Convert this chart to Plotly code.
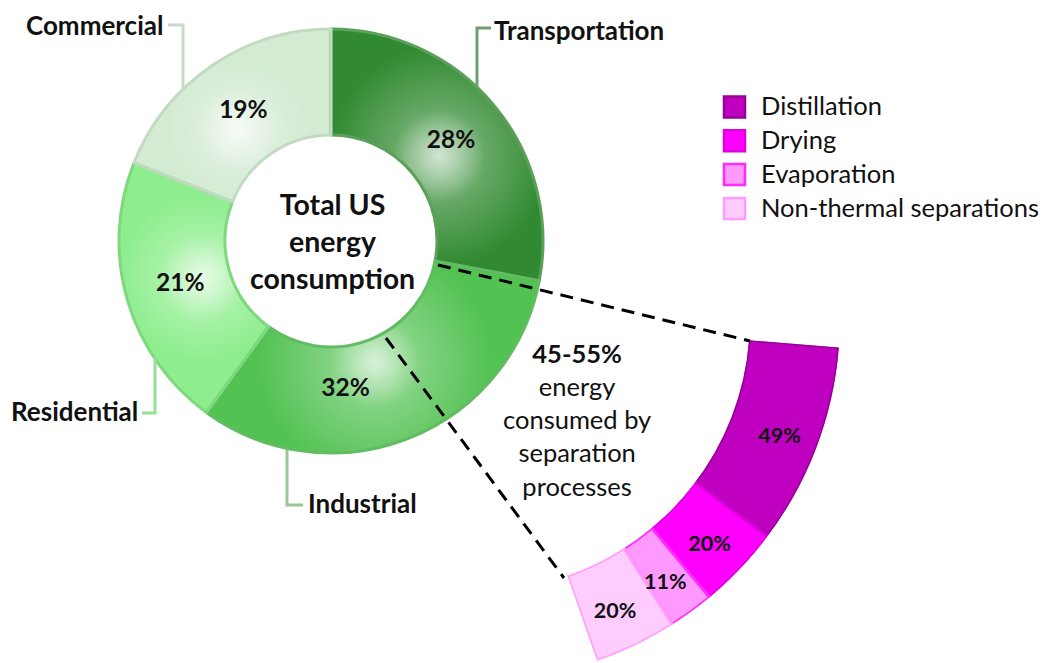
import math
import plotly.graph_objects as go

W, H = 1045, 663

# Total US energy consumption by end-use sector (%)
sectors = ["Transportation", "Industrial", "Residential", "Commercial"]
sector_share = [28, 32, 21, 19]

# Share of separation energy by process (%)
processes = ["Distillation", "Drying", "Evaporation", "Non-thermal separations"]
process_share = [49, 20, 11, 20]

center_title = ["Total US", "energy", "consumption"]
separation_note = ["45-55%", "energy", "consumed by", "separation", "processes"]

# ---- styling -------------------------------------------------------------
FONT = "Lato"
sector_fill = ["#318a31", "#52c252", "#8eee8e", "#d3ebd3"]
sector_edge = ["#5aa05a", "#62bc62", "#7ed87e", "#c2dac2"]
process_fill = ["#c000c0", "#ff00ff", "#ff99ff", "#ffccff"]
process_edge = ["#990099", "#e000e0", "#ff2bff", "#ff9cff"]


def px(x):
    return x / W


def py(y):
    return 1 - y / H


# donut geometry (pixels)
D_CX, D_CY, D_R, D_HOLE = 331, 241, 212, 0.5
# separation arc geometry (pixels / degrees)
A_CX, A_CY, A_R, A_HOLE = 478, 319, 362, 0.751
A_START, A_END = -4.5, -70.8
A_SPAN = A_START - A_END

fig = go.Figure()

# ---- donut: sector shares ------------------------------------------------
cum = 0
d_theta, d_width = [], []
for v in sector_share:
    d_theta.append((cum + v / 2) * 3.6)
    d_width.append(v * 3.6)
    cum += v

fig.add_trace(go.Barpolar(
    r=[1] * len(sector_share), theta=d_theta, width=d_width,
    marker=dict(color=sector_fill, line=dict(width=0)),
    subplot="polar", hoverinfo="skip", showlegend=False,
))

# soft highlight inside each slice
glow_theta = [52, 160, 254, 320]
glow_r = [0.30, 0.22, 0.26, 0.37]
glow_big = [220, 235, 165, 140]
glow_small = [92, 90, 86, 80]
fig.add_trace(go.Scatterpolar(
    r=glow_r, theta=glow_theta, mode="markers", subplot="polar",
    marker=dict(size=glow_big, color="rgba(255,255,255,0)", line=dict(width=0),
                gradient=dict(type="radial", color="rgba(255,255,255,0.64)")),
    hoverinfo="skip", showlegend=False,
))
fig.add_trace(go.Scatterpolar(
    r=glow_r, theta=glow_theta, mode="markers", subplot="polar",
    marker=dict(size=glow_small, color="rgba(255,255,255,0)", line=dict(width=0),
                gradient=dict(type="radial", color="rgba(255,255,255,0.85)")),
    hoverinfo="skip", showlegend=False,
))

label_nudge = [0, 16, 0, 0]
label_r = [0.47, 0.41, 0.48, 0.47]
fig.add_trace(go.Scatterpolar(
    r=label_r, theta=[t + n for t, n in zip(d_theta, label_nudge)],
    mode="text", subplot="polar",
    text=[f"<b>{v}%</b>" for v in sector_share],
    textfont=dict(family=FONT, size=24.5, color="#111"),
    hoverinfo="skip", showlegend=False,
))

# slice outlines on top of the highlights
fig.add_trace(go.Pie(
    values=sector_share, labels=sectors, sort=False, direction="clockwise",
    rotation=0, hole=D_HOLE,
    domain=dict(x=[px(D_CX - D_R), px(D_CX + D_R)], y=[py(D_CY + D_R), py(D_CY - D_R)]),
    marker=dict(colors=["rgba(0,0,0,0)"] * 4, line=dict(color=sector_edge, width=3)),
    textinfo="none", hoverinfo="skip", showlegend=False,
))

# ---- separation arc ------------------------------------------------------
scale = A_SPAN / 100
cum = 0
a_theta, a_width = [], []
for v in process_share:
    a_theta.append((cum + v / 2) * scale)
    a_width.append(v * scale)
    cum += v

fig.add_trace(go.Barpolar(
    r=[1] * len(process_share), theta=a_theta, width=a_width,
    marker=dict(color=process_fill, line=dict(color=process_edge, width=3)),
    subplot="polar2", hoverinfo="skip", showlegend=False,
))
fig.add_trace(go.Scatterpolar(
    r=[0.58] * len(process_share), theta=[t + 0.8 for t in a_theta],
    mode="text", subplot="polar2",
    text=[f"<b>{v}%</b>" for v in process_share],
    textfont=dict(family=FONT, size=21.5, color="#111"),
    hoverinfo="skip", showlegend=False,
))

# ---- legend for the separation processes ---------------------------------
leg_y = [107 + 33.8 * i for i in range(len(processes))]
fig.add_trace(go.Scatter(
    x=[734.5] * len(processes), y=leg_y, mode="markers",
    marker=dict(symbol="square", size=21, color=process_fill,
                line=dict(color=process_edge, width=2.5)),
    hoverinfo="skip", showlegend=False,
))
fig.add_trace(go.Scatter(
    x=[761] * len(processes), y=[y + 2 for y in leg_y], mode="text",
    text=processes, textposition="middle right",
    textfont=dict(family=FONT, size=25.5, color="#111"),
    hoverinfo="skip", showlegend=False,
))

# ---- annotations -----------------------------------------------------------
annotations = [
    dict(x=D_CX + 1, y=D_CY, text="<b>" + "<br>".join(center_title) + "</b>",
         font=dict(family=FONT, size=28.5, color="#111")),
    dict(x=577, y=419,
         text="<b>" + separation_note[0] + "</b><br>" + "<br>".join(separation_note[1:]),
         font=dict(family=FONT, size=25.5, color="#111")),
]
label_pos = {
    "Commercial": (165, 25, "right"),
    "Transportation": (492, 30, "left"),
    "Residential": (140, 411, "right"),
    "Industrial": (306, 503, "left"),
}
for name in sectors:
    x, y, anchor = label_pos[name]
    annotations.append(dict(x=x, y=y, xanchor=anchor, text=f"<b>{name}</b>",
                            font=dict(family=FONT, size=26, color="#111")))
for a in annotations:
    a.update(xref="x", yref="y", showarrow=False)
    a.setdefault("xanchor", "center")
    a.setdefault("yanchor", "middle")

# leader lines and zoom guides
leaders = [
    ("M168,25 L183,25 L183,90", "#c6dcc6"),
    ("M491,28 L477,28 L477,88", "#6f9f6f"),
    ("M142,413 L155,413 L155,357", "#98e098"),
    ("M303,505 L287,505 L287,450", "#98c898"),
]
shapes = [dict(type="path", path=p, xref="x", yref="y",
               line=dict(color=c, width=3)) for p, c in leaders]
for (x0, y0, x1, y1) in [(438, 265, 750, 341), (386, 338, 564, 578)]:
    shapes.append(dict(type="line", x0=x0, y0=y0, x1=x1, y1=y1, xref="x", yref="y",
                       line=dict(color="black", width=3, dash="13px,8px")))

# ---- layout --------------------------------------------------------------
a_dom_x = [px(A_CX), px(A_CX + A_R * max(math.cos(math.radians(A_START)),
                                         math.cos(math.radians(A_END))))]
a_dom_y = [py(A_CY + A_R * max(-math.sin(math.radians(A_START)),
                               -math.sin(math.radians(A_END)))), py(A_CY)]

hidden_radial = dict(visible=False, range=[0, 1])
fig.update_layout(
    width=W, height=H, autosize=False,
    margin=dict(l=0, r=0, t=0, b=0, pad=0),
    paper_bgcolor="white", plot_bgcolor="white",
    hovermode=False,
    xaxis=dict(domain=[0, 1], range=[0, W], visible=False, fixedrange=True),
    yaxis=dict(domain=[0, 1], range=[H, 0], visible=False, fixedrange=True),
    polar=dict(
        domain=dict(x=[px(D_CX - D_R), px(D_CX + D_R)], y=[py(D_CY + D_R), py(D_CY - D_R)]),
        hole=D_HOLE, bgcolor="rgba(0,0,0,0)",
        radialaxis=hidden_radial,
        angularaxis=dict(visible=False, direction="clockwise", rotation=90),
    ),
    polar2=dict(
        domain=dict(x=a_dom_x, y=a_dom_y),
        sector=[A_END, A_START], hole=A_HOLE, bgcolor="rgba(0,0,0,0)",
        radialaxis=hidden_radial,
        angularaxis=dict(visible=False, direction="clockwise", rotation=A_START),
    ),
    annotations=annotations,
    shapes=shapes,
)

fig.write_html("out.html")
